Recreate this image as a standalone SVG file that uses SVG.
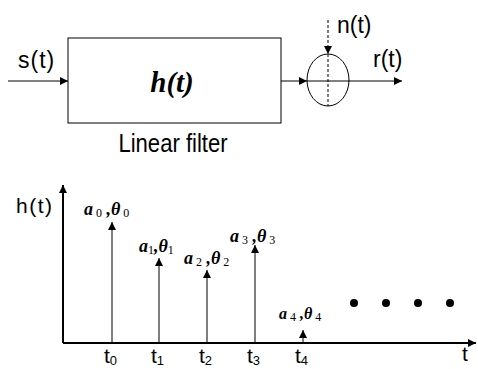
<svg xmlns="http://www.w3.org/2000/svg" width="478" height="369" viewBox="0 0 478 369">
<defs>
<marker id="ah" viewBox="0 0 10 10" refX="10" refY="5" markerWidth="8" markerHeight="8" markerUnits="userSpaceOnUse" orient="auto"><path d="M0,0 L10,5 L0,10 z" fill="#000"/></marker>
</defs>
<style>
.ln{stroke:#000;stroke-width:1;fill:none}
.ax{stroke:#000;stroke-width:2;fill:none}
.sans{font-family:"Liberation Sans",Arial,sans-serif;fill:#000}
.ser{font-family:"Liberation Serif","Times New Roman",serif;fill:#000;font-style:italic;font-weight:bold}
.sub{font-family:"Liberation Serif","Times New Roman",serif;font-size:12px;font-style:normal;font-weight:normal}
</style>
<rect width="478" height="369" fill="#fff"/>
<g id="filter">
<rect x="68" y="38" width="213" height="85" class="ln"/>
<text x="172" y="92" font-family="'Liberation Serif','Times New Roman',serif" font-style="italic" font-weight="bold" font-size="29" text-anchor="middle">h(t)</text>
<text transform="translate(173,152) scale(0.85,1)" class="sans" font-size="26" text-anchor="middle">Linear filter</text>
</g>
<g id="adder">
<ellipse cx="328" cy="80" rx="21" ry="26" class="ln"/>
<text x="337" y="33" class="sans" font-size="23">n(t)</text>
</g>
<g id="labels">
<text x="18" y="68" class="sans" font-size="23" letter-spacing="1">s(t)</text>
<text x="373" y="67" class="sans" font-size="23">r(t)</text>
</g>
<g id="connectors">
<line x1="8" y1="81" x2="68" y2="81" class="ln" marker-end="url(#ah)"/>
<line x1="281" y1="81" x2="307" y2="81" class="ln" marker-end="url(#ah)"/>
<line x1="307" y1="81" x2="402" y2="81" class="ln" marker-end="url(#ah)"/>
<line x1="328" y1="20" x2="328" y2="54" class="ln" stroke-dasharray="3,2" marker-end="url(#ah)"/>
<line x1="328" y1="54" x2="328" y2="106" class="ln" stroke-dasharray="3,2"/>
</g>
<g id="plot">
<line x1="63" y1="343" x2="63" y2="185" class="ax" marker-end="url(#ah)"/>
<line x1="63" y1="343" x2="476" y2="343" class="ax" marker-end="url(#ah)"/>
<text x="16" y="213" class="sans" font-size="21" letter-spacing="1.5">h(t)</text>
<text x="462" y="361" class="sans" font-size="21">t</text>
<line x1="112" y1="343" x2="112" y2="222" class="ln" marker-end="url(#ah)"/>
<line x1="159" y1="343" x2="159" y2="258" class="ln" marker-end="url(#ah)"/>
<line x1="207" y1="343" x2="207" y2="270" class="ln" marker-end="url(#ah)"/>
<line x1="255" y1="343" x2="255" y2="245" class="ln" marker-end="url(#ah)"/>
<line x1="303" y1="343" x2="303" y2="330" class="ln" marker-end="url(#ah)"/>
<text x="84" y="215" class="ser" font-size="18">a<tspan class="sub" dy="2"> 0</tspan><tspan dy="-2"> ,θ</tspan><tspan class="sub" dy="2"> 0</tspan></text>
<text x="139" y="252" class="ser" font-size="18">a<tspan class="sub" dy="2">1</tspan><tspan dy="-2">,θ</tspan><tspan class="sub" dy="2">1</tspan></text>
<text x="184" y="264" class="ser" font-size="18">a<tspan class="sub" dy="2"> 2</tspan><tspan dy="-2"> ,θ</tspan><tspan class="sub" dy="2"> 2</tspan></text>
<text x="230" y="242" class="ser" font-size="18">a<tspan class="sub" dy="2"> 3</tspan><tspan dy="-2"> ,θ</tspan><tspan class="sub" dy="2"> 3</tspan></text>
<text x="279" y="319" class="ser" font-size="16">a<tspan class="sub" dy="2"> 4</tspan><tspan dy="-2"> ,θ</tspan><tspan class="sub" dy="2"> 4</tspan></text>
<text x="104" y="363" class="sans" font-size="21">t<tspan font-size="13" dy="2">0</tspan></text>
<text x="151" y="363" class="sans" font-size="21">t<tspan font-size="13" dy="2">1</tspan></text>
<text x="199" y="363" class="sans" font-size="21">t<tspan font-size="13" dy="2">2</tspan></text>
<text x="247" y="363" class="sans" font-size="21">t<tspan font-size="13" dy="2">3</tspan></text>
<text x="295" y="363" class="sans" font-size="21">t<tspan font-size="13" dy="2">4</tspan></text>
<circle cx="354" cy="303" r="4"/>
<circle cx="386" cy="303" r="4"/>
<circle cx="418" cy="303" r="4"/>
<circle cx="450" cy="303" r="4"/>
</g>
</svg>
